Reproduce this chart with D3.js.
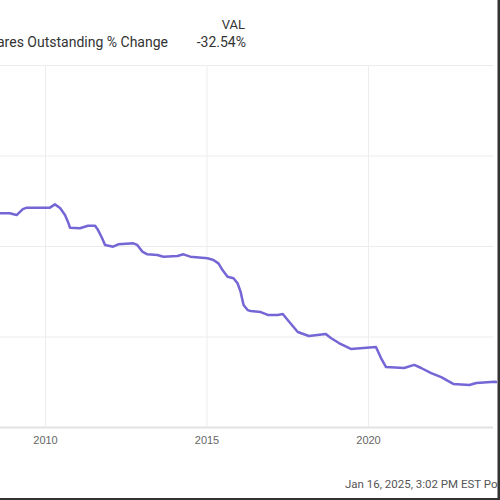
<!DOCTYPE html>
<html>
<head>
<meta charset="utf-8">
<script src="https://cdn.jsdelivr.net/npm/d3@7"></script>
<style>
  html, body { margin: 0; padding: 0; background: #fff; }
  svg { display: block; font-family: Roboto, "Liberation Sans", Arial, sans-serif; }
</style>
</head>
<body>
<svg id="chart" width="500" height="500"></svg>
<script>
// ---- data ----
const dates = [
  "2008-06-01","2008-11-29","2009-02-14","2009-04-25","2009-06-10","2010-02-26",
  "2010-04-23","2010-06-20","2010-08-15","2010-09-18","2010-10-11","2011-02-01",
  "2011-05-02","2011-07-21","2011-08-24","2011-10-08","2011-11-11","2012-02-10",
  "2012-04-08","2012-09-25","2012-11-09","2013-01-05","2013-03-03","2013-06-24",
  "2013-09-01","2014-02-06","2014-04-15","2014-07-02","2015-01-12","2015-03-20",
  "2015-05-16","2015-07-01","2015-08-27","2015-11-02","2015-12-18","2016-01-21",
  "2016-02-24","2016-04-10","2016-05-14","2016-09-05","2016-11-23","2017-03-17",
  "2017-05-12","2017-07-07","2017-10-29","2018-03-03","2018-09-11","2018-11-07",
  "2019-02-06","2019-06-21","2020-03-31","2020-05-27","2020-07-23","2021-02-13",
  "2021-06-06","2021-08-24","2021-12-15","2022-04-08","2022-08-22","2023-02-20",
  "2023-05-10","2023-11-30","2024-02-17"
];
const values = [
  -23.19,-23.19,-23.29,-22.96,-22.88,-22.88,
  -22.70,-22.90,-23.29,-23.67,-23.99,-24.02,
  -23.88,-23.88,-24.12,-24.56,-24.94,-25.04,
  -24.91,-24.85,-24.94,-25.31,-25.46,-25.50,
  -25.59,-25.55,-25.46,-25.59,-25.68,-25.77,
  -25.96,-26.33,-26.70,-26.78,-27.06,-27.52,
  -28.26,-28.54,-28.59,-28.65,-28.81,-28.81,
  -28.76,-29.09,-29.75,-29.97,-29.86,-30.08,
  -30.36,-30.69,-30.58,-31.19,-31.69,-31.74,
  -31.57,-31.74,-32.02,-32.24,-32.62,-32.68,
  -32.57,-32.50,-32.54
];
const xTickLabels = ["2010","2015","2020"];
const yTicks = [-15,-20,-25,-30,-35];
const seriesTicker = "VAL";
const seriesName = "VAL Shares Outstanding % Change";
const lastValueLabel = "-32.54%";
const footerText = "Jan 16, 2025, 3:02 PM EST  Powered by YCHARTS";

// ---- layout ----
const svg = d3.select("#chart");
const plotLeft = 0, plotRight = 497, plotTop = 65, plotBottom = 427;
const parse = d3.timeParse("%Y-%m-%d");
const data = dates.map((d, i) => ({ date: parse(d), value: values[i] }));

const x = d3.scaleTime()
  .domain([parse("2010-01-01"), parse("2020-01-01")])
  .range([45, 368]);
const y = d3.scaleLinear()
  .domain([-35, -15])
  .range([plotBottom, plotTop]);

// horizontal gridlines
const gy = svg.append("g")
  .attr("transform", `translate(${plotLeft},0)`)
  .call(d3.axisLeft(y).tickValues(yTicks).tickSize(-(493 - plotLeft)).tickFormat(""));
gy.select(".domain").remove();
gy.selectAll(".tick line").attr("stroke", "#ececec").attr("stroke-width", 1);
gy.selectAll(".tick").filter(d => d === -35).select("line").attr("stroke", "#e2e2e2").attr("stroke-width", 2);

// vertical gridlines + labels
const tickDates = xTickLabels.map(t => parse(t + "-01-01"));
const gx = svg.append("g")
  .attr("transform", `translate(0,${plotBottom})`)
  .call(d3.axisBottom(x).tickValues(tickDates).tickSize(-(plotBottom - plotTop)).tickPadding(9)
    .tickFormat(d3.timeFormat("%Y")));
gx.select(".domain").remove();
gx.selectAll(".tick line").attr("stroke", "#ededed").attr("stroke-width", 1);
gx.selectAll(".tick text").attr("fill", "#666").attr("font-size", "11px");

// line
svg.append("clipPath").attr("id", "clip")
  .append("rect").attr("x", plotLeft).attr("y", 0).attr("width", plotRight - plotLeft).attr("height", 500);
svg.append("path")
  .datum(data)
  .attr("clip-path", "url(#clip)")
  .attr("fill", "none")
  .attr("stroke", "#7566d6")
  .attr("stroke-width", 2.5)
  .attr("stroke-linejoin", "round")
  .attr("d", d3.line().x(d => x(d.date)).y(d => y(d.value)));

// legend header
svg.append("text").attr("x", 245).attr("y", 29).attr("text-anchor", "end")
  .attr("font-size", "13px").attr("fill", "#333").text(seriesTicker);
svg.append("text").attr("x", 168).attr("y", 47).attr("text-anchor", "end")
  .attr("font-size", "14px").attr("fill", "#333").text(seriesName);
svg.append("text").attr("x", 246).attr("y", 47).attr("text-anchor", "end")
  .attr("font-size", "14px").attr("fill", "#333").text(lastValueLabel);

// footer
svg.append("text").attr("x", 345).attr("y", 488)
  .attr("font-size", "11.5px").attr("fill", "#555").text(footerText);

// screenshot border
svg.append("rect").attr("x", 497.5).attr("y", 0).attr("width", 2.5).attr("height", 500).attr("fill", "#333");
svg.append("rect").attr("x", 0).attr("y", 498).attr("width", 500).attr("height", 2).attr("fill", "#333");
</script>
</body>
</html>
